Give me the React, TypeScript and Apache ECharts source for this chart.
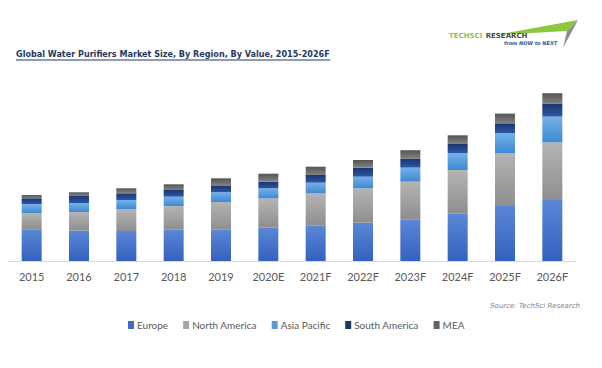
import React, { useEffect, useRef } from "react";
import * as echarts from "echarts";

const categories = ["2015", "2016", "2017", "2018", "2019", "2020E", "2021F", "2022F", "2023F", "2024F", "2025F", "2026F"];
const europe = [31.7, 30.3, 30.0, 31.3, 31.3, 33.3, 35.3, 38.3, 41.7, 47.3, 55.0, 61.0];
const northAmerica = [16.0, 18.7, 22.0, 23.7, 27.7, 29.3, 32.3, 34.3, 37.7, 43.7, 53.0, 57.7];
const asiaPacific = [9.3, 9.0, 9.0, 9.3, 9.7, 10.0, 10.7, 11.7, 14.0, 17.0, 19.7, 25.7];
const southAmerica = [5.7, 7.0, 6.7, 6.7, 6.3, 6.7, 7.7, 9.0, 8.7, 9.0, 10.0, 12.7];
const mea = [3.3, 3.7, 5.0, 5.7, 7.7, 8.0, 8.3, 7.7, 8.7, 8.7, 9.7, 10.7];

const titleText = "Global Water Purifiers Market Size, By Region, By Value, 2015-2026F";
const sourceText = "Source: TechSci Research";

function grad(top: string, bottom: string) {
  return new echarts.graphic.LinearGradient(0, 0, 0, 1, [
    { offset: 0, color: top },
    { offset: 1, color: bottom },
  ]);
}

export default function App() {
  const ref = useRef<HTMLDivElement>(null);
  useEffect(() => {
    if (!ref.current) return;
    const chart = echarts.init(ref.current, undefined, { renderer: "svg" });

    const titleFont = "bold 9px 'DejaVu Sans'";
    let tw = 400;
    try {
      const ctx = document.createElement("canvas").getContext("2d");
      if (ctx) {
        ctx.font = titleFont;
        tw = ctx.measureText(titleText).width;
      }
    } catch (e) {}
    const titleScale = 314 / tw;

    const mk = (name: string, data: number[], top: string, bottom: string) => ({
      name,
      type: "bar",
      stack: "total",
      barWidth: 20,
      data,
      itemStyle: { color: grad(top, bottom) },
      emphasis: { disabled: true },
    });

    chart.setOption({
      animation: false,
      backgroundColor: "#ffffff",
      grid: { left: 8, width: 568, top: 91, height: 170, containLabel: false },
      xAxis: {
        type: "category",
        data: categories,
        axisLine: { lineStyle: { color: "#d9d9d9", width: 1 } },
        axisTick: { show: false },
        axisLabel: { color: "#595959", fontFamily: "Lato", fontSize: 11, margin: 10 },
      },
      yAxis: {
        type: "value",
        min: 0,
        max: 170,
        show: false,
        splitLine: { show: false },
      },
      legend: {
        left: 123,
        top: 315,
        icon: "rect",
        itemWidth: 6,
        itemHeight: 8,
        itemGap: 15,
        textStyle: { color: "#595959", fontFamily: "Lato", fontSize: 10, padding: [0, 0, 0, -2] },
        data: [
          { name: "Europe", itemStyle: { color: "#3d6ac6" } },
          { name: "North America", itemStyle: { color: "#a5a5a5" } },
          { name: "Asia Pacific", itemStyle: { color: "#5b9bd5" } },
          { name: "South America", itemStyle: { color: "#203864" } },
          { name: "MEA", itemStyle: { color: "#636363" } },
        ],
      },
      series: [
        mk("Europe", europe, "#5b87d6", "#3361bf"),
        mk("North America", northAmerica, "#b4b4b4", "#8e8e8e"),
        mk("Asia Pacific", asiaPacific, "#72b1ea", "#3f88d2"),
        mk("South America", southAmerica, "#1b3670", "#2c57a6"),
        mk("MEA", mea, "#555555", "#828282"),
      ],
      graphic: [
        {
          type: "text",
          x: 16,
          y: 58,
          scaleX: titleScale,
          style: {
            text: titleText,
            font: titleFont,
            fill: "#1f3864",
            textVerticalAlign: "bottom",
          },
        },
        {
          type: "line",
          shape: { x1: 16, y1: 60, x2: 330, y2: 60 },
          style: { stroke: "#1f3864", lineWidth: 1 },
        },
        {
          type: "polygon",
          shape: { points: [[496, 35], [578, 20], [567, 31]] },
          style: { fill: "#8dc63f" },
        },
        {
          type: "polygon",
          shape: { points: [[567, 31], [578, 20], [563, 48]] },
          style: { fill: "#8a8f94" },
        },
        {
          type: "text",
          x: 449,
          y: 36,
          style: {
            text: "{g|TECHSCI} {d|RESEARCH}",
            textVerticalAlign: "middle",
            rich: {
              g: { fill: "#8dc63f", font: "bold 7px 'DejaVu Sans'" },
              d: { fill: "#4a4a4a", font: "bold 7px 'DejaVu Sans'" },
            },
          },
        },
        {
          type: "text",
          x: 504,
          y: 43,
          style: {
            text: "from NOW to NEXT",
            font: "italic bold 5px 'DejaVu Sans'",
            fill: "#2f5597",
            textVerticalAlign: "middle",
          },
        },
        {
          type: "text",
          x: 580,
          y: 306,
          style: {
            text: sourceText,
            font: "italic 7px 'DejaVu Sans'",
            fill: "#7f7f7f",
            textAlign: "right",
            textVerticalAlign: "middle",
          },
        },
      ],
    });
    return () => chart.dispose();
  }, []);
  return (
    <div
      ref={ref}
      style={{ position: "fixed", left: 0, top: 0, width: 602, height: 368, background: "#fff" }}
    />
  );
}
